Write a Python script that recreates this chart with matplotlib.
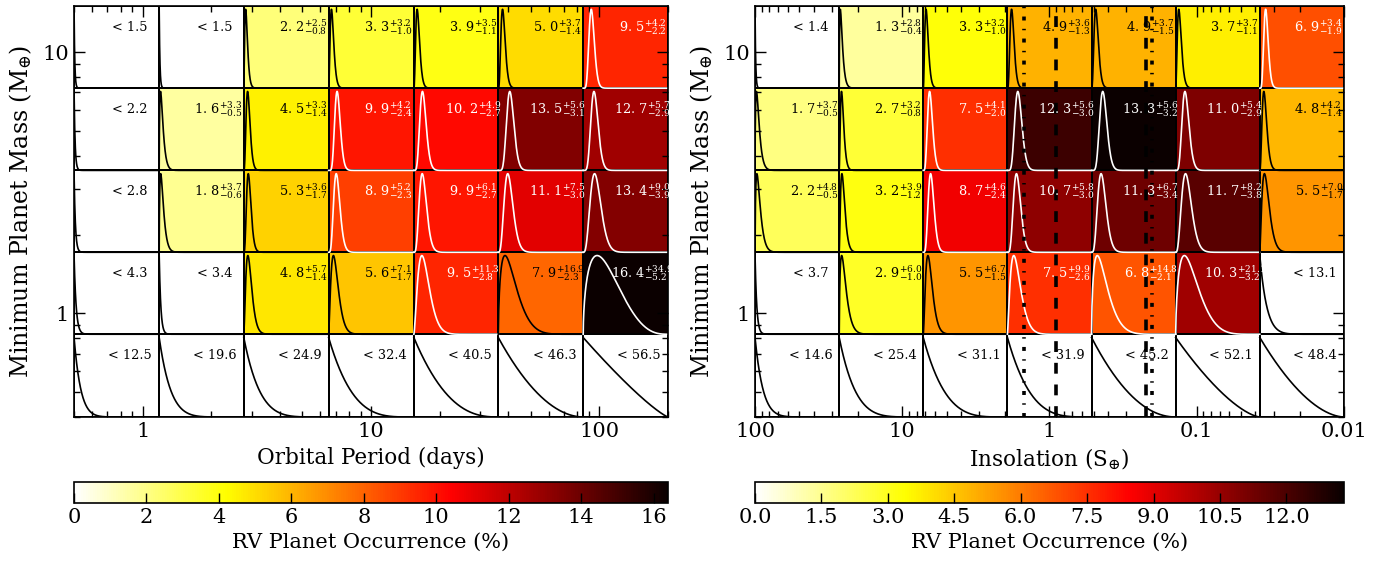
import numpy as np
import matplotlib.pyplot as plt
from matplotlib.ticker import FormatStrFormatter, LogLocator, NullFormatter, MultipleLocator

plt.rcParams['font.family'] = 'DejaVu Serif'
plt.rcParams['mathtext.fontset'] = 'dejavuserif'

nan = np.nan

# bin edges
period_edges = [0.5, 1.18, 2.77, 6.52, 15.4, 36.1, 85.0, 200.0]
insol_edges = [100.0, 26.8, 7.2, 1.93, 0.518, 0.139, 0.0373, 0.01]
mass_edges = [0.4, 0.83, 1.71, 3.52, 7.27, 15.0]

# occurrence (%) per cell, rows from lowest mass bin upward
per_occ = [[nan, nan, nan, nan, nan, nan, nan],
           [nan, nan, 4.8, 5.6, 9.5, 7.9, 16.4],
           [nan, 1.8, 5.3, 8.9, 9.9, 11.1, 13.4],
           [nan, 1.6, 4.5, 9.9, 10.2, 13.5, 12.7],
           [nan, nan, 2.2, 3.3, 3.9, 5.0, 9.5]]
per_hi = [[nan, nan, nan, nan, nan, nan, nan],
          [nan, nan, 5.7, 7.1, 11.3, 16.9, 34.9],
          [nan, 3.7, 3.6, 5.2, 6.1, 7.5, 9.0],
          [nan, 3.3, 3.3, 4.2, 4.9, 5.6, 5.7],
          [nan, nan, 2.5, 3.2, 3.5, 3.7, 4.2]]
per_lo = [[nan, nan, nan, nan, nan, nan, nan],
          [nan, nan, 1.4, 1.7, 2.8, 2.3, 5.2],
          [nan, 0.6, 1.7, 2.3, 2.7, 3.0, 3.9],
          [nan, 0.5, 1.4, 2.4, 2.7, 3.1, 2.9],
          [nan, nan, 0.8, 1.0, 1.1, 1.4, 2.2]]
per_lim = [[12.5, 19.6, 24.9, 32.4, 40.5, 46.3, 56.5],
           [4.3, 3.4, nan, nan, nan, nan, nan],
           [2.8, nan, nan, nan, nan, nan, nan],
           [2.2, nan, nan, nan, nan, nan, nan],
           [1.5, 1.5, nan, nan, nan, nan, nan]]

ins_occ = [[nan, nan, nan, nan, nan, nan, nan],
           [nan, 2.9, 5.5, 7.5, 6.8, 10.3, nan],
           [2.2, 3.2, 8.7, 10.7, 11.3, 11.7, 5.5],
           [1.7, 2.7, 7.5, 12.3, 13.3, 11.0, 4.8],
           [nan, 1.3, 3.3, 4.9, 4.9, 3.7, 6.9]]
ins_hi = [[nan, nan, nan, nan, nan, nan, nan],
          [nan, 6.0, 6.7, 9.9, 14.8, 21.1, nan],
          [4.8, 3.9, 4.6, 5.8, 6.7, 8.2, 7.0],
          [3.7, 3.2, 4.1, 5.6, 5.6, 5.4, 4.2],
          [nan, 2.8, 3.2, 3.6, 3.7, 3.7, 3.4]]
ins_lo = [[nan, nan, nan, nan, nan, nan, nan],
          [nan, 1.0, 1.5, 2.6, 2.1, 3.2, nan],
          [0.5, 1.2, 2.4, 3.0, 3.4, 3.8, 1.7],
          [0.5, 0.8, 2.0, 3.0, 3.2, 2.9, 1.4],
          [nan, 0.4, 1.0, 1.3, 1.5, 1.1, 1.9]]
ins_lim = [[14.6, 25.4, 31.1, 31.9, 45.2, 52.1, 48.4],
           [3.7, nan, nan, nan, nan, nan, 13.1],
           [nan, nan, nan, nan, nan, nan, nan],
           [nan, nan, nan, nan, nan, nan, nan],
           [1.4, nan, nan, nan, nan, nan, nan]]

# habitable zone boundaries (S_earth)
hz_optimistic = [1.48, 0.20]
hz_conservative = [0.90, 0.22]

LIM_CONF = 0.84


def posterior(f, occ, hi, lo, lim):
    if not np.isnan(lim):
        n = np.log(1 - LIM_CONF) / np.log(1 - lim / 100.) - 1
        p = (1 - f) ** n
    else:
        m = occ / 100.
        s = (hi + lo) / 200.
        n = m * (1 - m) / s ** 2
        k = m * n
        p = f ** k * (1 - f) ** (n - k)
    return p / p.max()


def draw_panel(ax, xedges, occ, hi, lo, lim):
    occ = np.array(occ); hi = np.array(hi); lo = np.array(lo); lim = np.array(lim)
    vals = np.nan_to_num(occ, nan=0.0)
    vmax = np.nanmax(occ)
    mesh = ax.pcolormesh(xedges, mass_edges, vals, cmap='hot_r', vmin=0, vmax=vmax,
                         edgecolors='k', linewidth=1.2)
    f = np.linspace(0, 1, 400)
    for i in range(len(mass_edges) - 1):
        yb, yt = np.log10(mass_edges[i]), np.log10(mass_edges[i + 1])
        for j in range(len(xedges) - 1):
            xl, xr = np.log10(xedges[j]), np.log10(xedges[j + 1])
            dark = vals[i, j] / vmax > 0.5
            c = 'w' if dark else 'k'
            p = posterior(f, occ[i, j], hi[i, j], lo[i, j], lim[i, j])
            ax.plot(10 ** (xl + f * (xr - xl)), 10 ** (yb + 0.96 * p * (yt - yb)), color=c, lw=1.2)
            if np.isnan(lim[i, j]):
                main = ('%.1f' % occ[i, j]).replace('.', r'.\,')
                s = r'$%s^{+%.1f}_{-%.1f}$' % (main, hi[i, j], lo[i, j])
                xt = 0.70
            else:
                s = '< %.1f' % lim[i, j]
                xt = 0.66
            ax.text(10 ** (xl + xt * (xr - xl)), 10 ** (yb + 0.74 * (yt - yb)), s,
                    color=c, fontsize=9.3, ha='center', va='center')
    ax.set_xscale('log')
    ax.set_yscale('log')
    ax.set_xlim(xedges[0], xedges[-1])
    ax.set_ylim(mass_edges[0], mass_edges[-1])
    for axis in [ax.xaxis, ax.yaxis]:
        axis.set_major_locator(LogLocator(base=10))
        axis.set_minor_locator(LogLocator(base=10, subs=np.arange(2, 10)))
        axis.set_major_formatter(FormatStrFormatter('%g'))
        axis.set_minor_formatter(NullFormatter())
    ax.tick_params(which='both', direction='in', top=True, right=True, labelsize=15)
    ax.tick_params(which='major', length=8, width=1)
    ax.tick_params(which='minor', length=4, width=1)
    for sp in ax.spines.values():
        sp.set_linewidth(1.2)
    ax.set_ylabel(r'Minimum Planet Mass (M$_{\oplus}$)', fontsize=17, labelpad=6)
    return mesh


fig = plt.figure(figsize=(13.92, 5.63), dpi=100)
ax1 = fig.add_axes([0.0532, 0.2593, 0.4267, 0.730])
ax2 = fig.add_axes([0.5424, 0.2593, 0.4231, 0.730])
cax1 = fig.add_axes([0.0532, 0.1066, 0.4267, 0.0373])
cax2 = fig.add_axes([0.5424, 0.1066, 0.4231, 0.0373])

m1 = draw_panel(ax1, period_edges, per_occ, per_hi, per_lo, per_lim)
ax1.set_xlabel('Orbital Period (days)', fontsize=15.5)

m2 = draw_panel(ax2, insol_edges, ins_occ, ins_hi, ins_lo, ins_lim)
ax2.set_xlabel(r'Insolation (S$_{\oplus}$)', fontsize=15.5)
for x in hz_optimistic:
    ax2.axvline(x, color='k', lw=2.6, dashes=(1.1, 2.3, 0.4, 2.3))
for x in hz_conservative:
    ax2.axvline(x, color='k', lw=2.6, dashes=(3.0, 3.0))
ax2.set_xlim(insol_edges[0], insol_edges[-1])

cb1 = fig.colorbar(m1, cax=cax1, orientation='horizontal')
cb2 = fig.colorbar(m2, cax=cax2, orientation='horizontal')
cb2.locator = MultipleLocator(1.5)
cb2.formatter = FormatStrFormatter('%.1f')
cb2.update_ticks()
for cb in [cb1, cb2]:
    cb.set_label('RV Planet Occurrence (%)', fontsize=15)
    cb.ax.tick_params(direction='in', length=7, width=1, labelsize=15)
    cb.outline.set_linewidth(1.2)

fig.savefig('out.png', dpi=100)
